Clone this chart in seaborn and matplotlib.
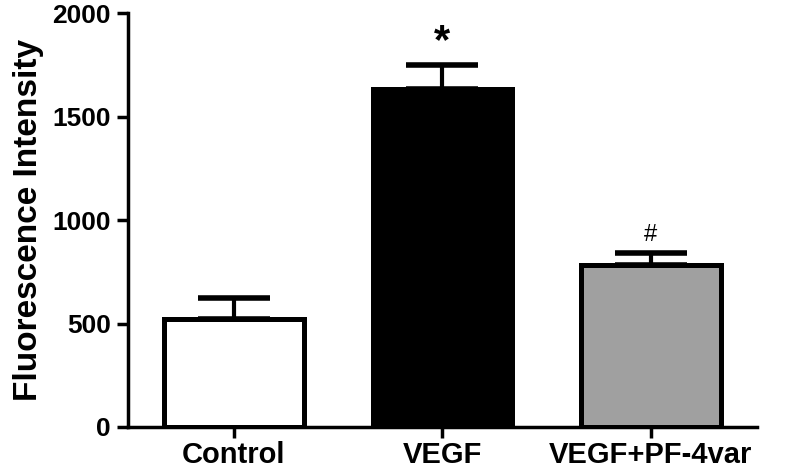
import numpy as np
import pandas as pd
import matplotlib
matplotlib.use("Agg")
import matplotlib.pyplot as plt
import seaborn as sns

categories = ["Control", "VEGF", "VEGF+PF-4var"]
means = [522, 1635, 783]
sem = [101, 114, 58]
bar_colors = ["#ffffff", "#000000", "#a0a0a0"]
marks = ["", "*", "#"]
y_ticks = [0, 500, 1000, 1500, 2000]

sns.set_style("ticks")
plt.rcParams["font.family"] = ["Liberation Sans", "DejaVu Sans"]
plt.rcParams["font.weight"] = "bold"
for k in ["text.color", "axes.labelcolor", "xtick.color", "ytick.color", "axes.edgecolor"]:
    plt.rcParams[k] = "black"

df = pd.DataFrame({"group": categories, "value": means})

fig = plt.figure(figsize=(7.88, 4.69), dpi=100)
ax = fig.add_axes([0.162, 0.0896, 0.799, 0.8824])

sns.barplot(data=df, x="group", y="value", hue="group", palette=bar_colors,
            legend=False, edgecolor="black", linewidth=3.6, width=0.67,
            errorbar=None, ax=ax, zorder=3)

x = np.arange(len(categories))
ax.errorbar(x, means, yerr=[np.zeros(len(sem)), sem], fmt="none",
            ecolor="black", elinewidth=3, capsize=26, capthick=4, zorder=2)

for xi, m, s, mk in zip(x, means, sem, marks):
    if mk == "*":
        ax.text(xi, m + s + 15, mk, ha="center", va="bottom", fontsize=30, fontweight="bold")
    elif mk:
        ax.text(xi, m + s + 35, mk, ha="center", va="bottom", fontsize=17, fontweight="normal")

ax.set_ylim(0, 2000)
ax.set_xlim(-0.51, 2.51)
ax.set_yticks(y_ticks)
ax.set_xlabel("")
ax.set_ylabel("Fluorescence Intensity", fontsize=24, fontweight="bold", labelpad=6)
ax.tick_params(axis="both", width=2.5, length=8, labelsize=19, pad=4, color="black")
for lab in ax.get_xticklabels() + ax.get_yticklabels():
    lab.set_fontweight("bold")
ax.tick_params(axis="x", labelsize=21, pad=2)
sns.despine(ax=ax)
for sp in ["left", "bottom"]:
    ax.spines[sp].set_linewidth(2.5)
    ax.spines[sp].set_color("black")

fig.savefig("out.png", dpi=100)
